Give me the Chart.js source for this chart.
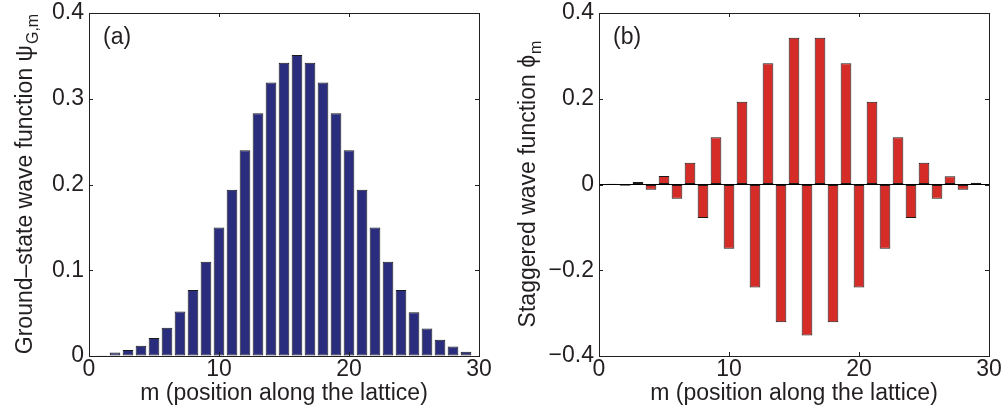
<!DOCTYPE html>
<html>
<head>
<meta charset="utf-8">
<script src="https://cdn.jsdelivr.net/npm/chart.js@4.4.0/dist/chart.umd.min.js"></script>
<style>
  body { margin: 0; background: #fff; }
  #wrap { position: relative; width: 1006px; height: 416px; }
  canvas { position: absolute; top: 0; }
</style>
</head>
<body>
<div id="wrap">
  <canvas id="left" width="500" height="416" style="left:0"></canvas>
  <canvas id="right" width="506" height="416" style="left:500px"></canvas>
</div>
<script>
// lattice sites m
const sites = [1, 2, 3, 4, 5, 6, 7, 8, 9, 10, 11, 12, 13, 14, 15, 16, 17, 18, 19, 20, 21, 22, 23, 24, 25, 26, 27, 28, 29];
// (a) ground-state wave function
const groundState = [0.001, 0.004, 0.007, 0.012, 0.021, 0.033, 0.052, 0.077, 0.110, 0.150, 0.194, 0.240, 0.283, 0.319, 0.342,
                     0.351, 0.342, 0.319, 0.283, 0.240, 0.194, 0.150, 0.110, 0.077, 0.051, 0.032, 0.019, 0.011, 0.005];
// (b) staggered wave function
const staggered = [0.002, -0.003, 0.006, -0.012, 0.020, -0.033, 0.051, -0.078, 0.110, -0.150, 0.193, -0.240, 0.283, -0.321, 0.342,
                   -0.352, 0.342, -0.321, 0.283, -0.240, 0.193, -0.150, 0.110, -0.078, 0.051, -0.033, 0.019, -0.012, 0.004];

const xTicks = [0, 10, 20, 30];
const leftYTicks = [0, 0.1, 0.2, 0.3, 0.4];
const rightYTicks = [-0.4, -0.2, 0, 0.2, 0.4];

const INK = '#231f20';
const FONT = '"Liberation Sans", Arial, Helvetica, sans-serif';

// box, inward ticks, panel letter and the y title with its subscript
const matlabAxes = {
    id: 'matlabAxes',
    afterDraw(chart, args, o) {
        const c = chart.ctx;
        const a = chart.chartArea;
        const xs = chart.scales.x, ys = chart.scales.y;
        c.save();
        c.strokeStyle = INK;
        c.lineWidth = 1;
        c.strokeRect(Math.round(a.left) + 0.5, Math.round(a.top) + 0.5,
                     Math.round(a.right - a.left), Math.round(a.bottom - a.top));
        c.beginPath();
        xs.ticks.forEach(t => {
            const p = Math.round(xs.getPixelForValue(t.value)) + 0.5;
            c.moveTo(p, a.bottom); c.lineTo(p, a.bottom - 4);
            c.moveTo(p, a.top); c.lineTo(p, a.top + 4);
        });
        ys.ticks.forEach(t => {
            const p = Math.round(ys.getPixelForValue(t.value)) + 0.5;
            c.moveTo(a.left, p); c.lineTo(a.left + 4, p);
            c.moveTo(a.right, p); c.lineTo(a.right - 4, p);
        });
        c.stroke();

        c.fillStyle = INK;
        c.textAlign = 'left';
        c.textBaseline = 'alphabetic';
        c.font = '23px ' + FONT;
        c.fillText(o.letter, a.left + 14, a.top + 31);

        // rotated y title
        c.translate(o.titleX, (a.top + a.bottom) / 2);
        c.rotate(-Math.PI / 2);
        c.font = '23px ' + FONT;
        const w1 = c.measureText(o.title).width;
        c.font = '16px ' + FONT;
        const w2 = c.measureText(o.sub).width;
        const start = -(w1 + w2) / 2;
        c.font = '23px ' + FONT;
        c.fillText(o.title, start, 0);
        c.font = '16px ' + FONT;
        c.fillText(o.sub, start + w1 + 1, 6);
        c.restore();
    }
};

function makeChart(id, values, color, yMin, yMax, yTicks, yWidth, pad, deco) {
    return new Chart(document.getElementById(id), {
        type: 'bar',
        data: {
            datasets: [{
                data: sites.map((m, i) => ({ x: m, y: values[i] })),
                backgroundColor: color,
                borderColor: '#1a1a1a',
                borderWidth: 1,
                borderSkipped: false,
                barPercentage: 0.82,
                categoryPercentage: 1
            }]
        },
        options: {
            responsive: false,
            animation: false,
            layout: { padding: pad },
            plugins: { legend: { display: false }, tooltip: { enabled: false }, matlabAxes: deco },
            scales: {
                x: {
                    type: 'linear',
                    min: 0, max: 30,
                    offset: false,
                    afterBuildTicks: s => { s.ticks = xTicks.map(v => ({ value: v })); },
                    afterFit: s => { s.height = 60; },
                    grid: { display: false, drawTicks: false },
                    border: { display: false },
                    ticks: { color: INK, padding: 1, maxRotation: 0, autoSkip: false,
                             font: { family: FONT, size: 23, lineHeight: 1.1 } },
                    title: { display: true, text: 'm (position along the lattice)', color: INK,
                             padding: { top: 0, bottom: 9 }, font: { family: FONT, size: 23, lineHeight: 1.2 } }
                },
                y: {
                    min: yMin, max: yMax,
                    afterBuildTicks: s => { s.ticks = yTicks.map(v => ({ value: v })); },
                    afterFit: s => { s.width = yWidth; },
                    grid: {
                        display: true, drawTicks: false,
                        color: ctx => (yMin < 0 && ctx.tick && ctx.tick.value === 0) ? '#000' : 'rgba(0,0,0,0)'
                    },
                    border: { display: false },
                    ticks: {
                        color: INK, padding: 5,
                        // small line height keeps the top label from pushing the plot down
                        font: { family: FONT, size: 23, lineHeight: 0.6 },
                        callback: v => v < 0 ? '\u2212' + String(Math.abs(v)) : String(v)
                    }
                }
            }
        },
        plugins: [matlabAxes]
    });
}

makeChart('left', groundState, '#2a2d7d', 0, 0.4, leftYTicks, 50,
    { left: 39, right: 21, top: 13, bottom: 0 },
    { letter: '(a)', title: 'Ground\u2013state wave function \u03c8', sub: 'G,m', titleX: 32 });

makeChart('right', staggered, '#d52c27', -0.4, 0.4, rightYTicks, 60,
    { left: 39, right: 17, top: 13, bottom: 0 },
    { letter: '(b)', title: 'Staggered wave function \u03d5', sub: 'm', titleX: 35 });
</script>
</body>
</html>
